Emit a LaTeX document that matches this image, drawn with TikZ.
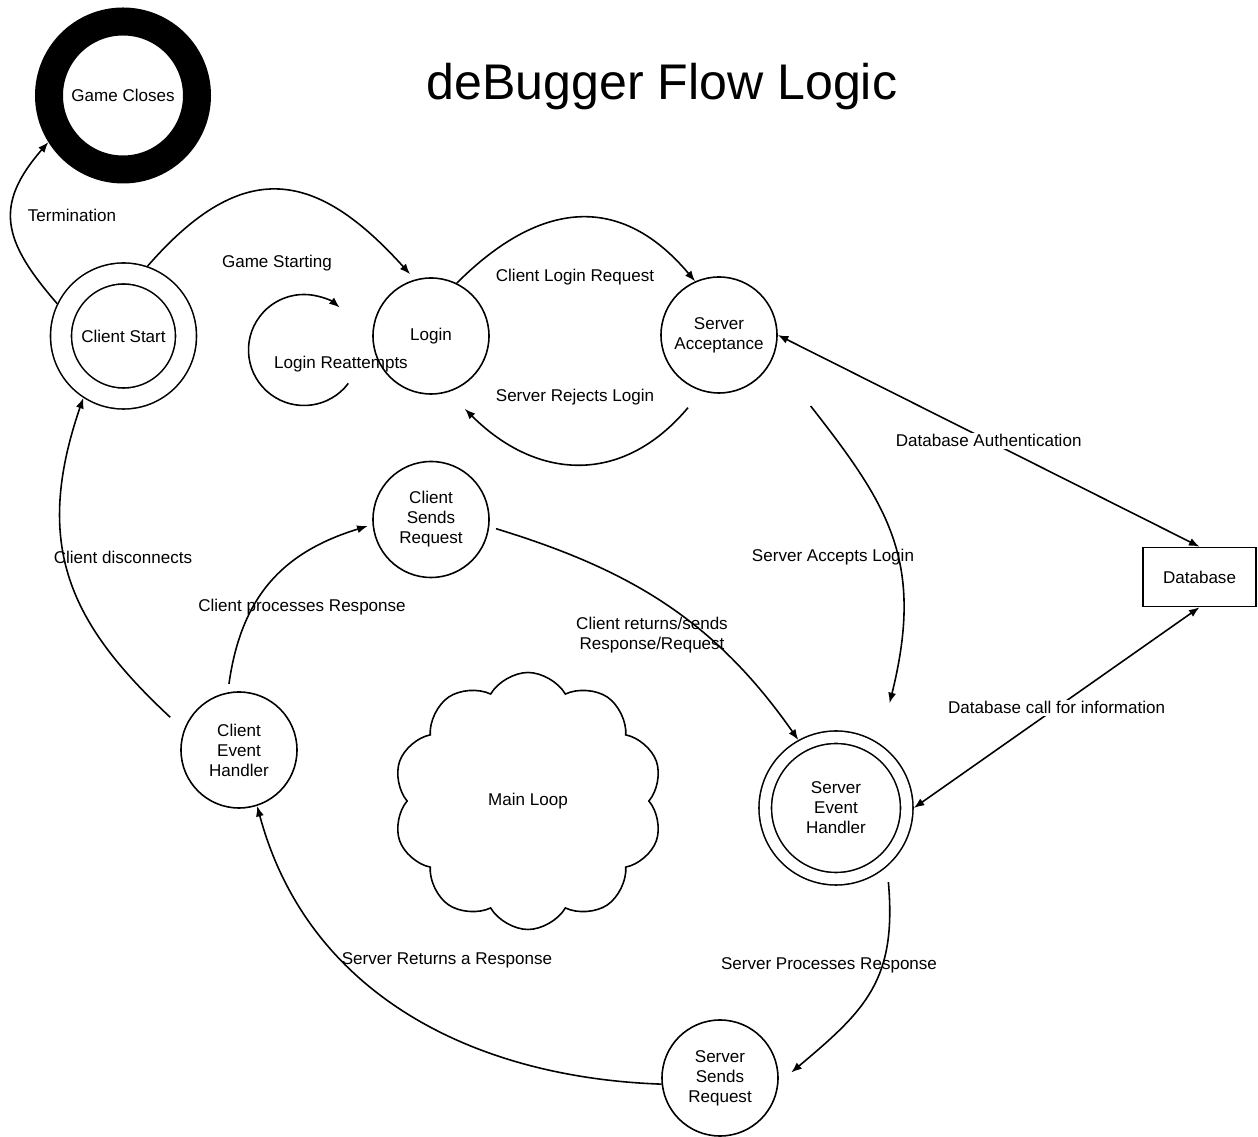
\documentclass[tikz,border=0pt]{standalone}
\usepackage{fontspec}
\setmainfont{Liberation Sans}
\usetikzlibrary{shapes.symbols,arrows.meta}
\tikzset{
    vertex/.style={circle,draw,minimum size=2.32cm,inner sep=0pt,align=center},
    dvertex/.style={vertex,double,double distance=#1},
    flow/.style={-{Latex[length=6pt,width=4.6pt]}},
    dflow/.style={{Latex[length=6pt,width=4.6pt]}-{Latex[length=6pt,width=4.6pt]}},
    lbl/.style={inner sep=1pt}
}

\begin{document}
\begin{tikzpicture}[
    font=\fontsize{9.7}{11.4}\selectfont,
    line width=0.9pt
]
\useasboundingbox (0,0) rectangle (25.16,22.74);

% Tieu de
\node[font=\fontsize{28.5}{34}\selectfont, anchor=base] (title) at (13.24,20.74) {deBugger Flow Logic};

% Cac trang thai
\node[vertex, minimum size=2.96cm, line width=0.56cm] (GC) at (2.46,20.83) {Game Closes};
\node[dvertex=0.388cm, minimum size=2.5cm, outer sep=0.226cm] (CS) at (2.47,16.02) {Client Start};
\node[vertex] (LG) at (8.62,16.02) {Login};
\node[vertex] (SA) at (14.38,16.04) {Server\\Acceptance};
\node[vertex] (CSR) at (8.62,12.35) {Client\\Sends\\Request};
\node[vertex] (CEH) at (4.78,7.74) {Client\\Event\\Handler};
\node[dvertex=0.218cm, minimum size=2.83cm, outer sep=0.141cm] (SEH) at (16.72,6.58) {Server\\Event\\Handler};
\node[vertex] (SSR) at (14.40,1.18) {Server\\Sends\\Request};
\node[draw, minimum width=2.26cm, minimum height=1.18cm] (DB) at (23.99,11.20) {Database};
\node[cloud, draw, cloud puffs=10, cloud puff arc=120, aspect=1.05,
      minimum width=5.4cm, minimum height=5.14cm] (ML) at (10.56,6.72) {Main Loop};

% Vong dang nhap lai
\coordinate (RL) at (6.08,15.74);
\draw[flow] ([shift={(-37:1.11)}]RL) arc[start angle=-37, end angle=-310, radius=1.11cm];

% Cac mui ten phia tren
\draw[flow] (CS.154) to[out=131,in=229,looseness=1.32] (GC.212);
\draw[flow, shorten >=0.14cm] (CS.71) to[out=49,in=132,looseness=1.4] (LG.106);
\draw[flow] (LG.64) to[out=45,in=130,looseness=1.25] (SA.114);
\draw[flow, shorten <=0.43cm, shorten >=0.47cm] (SA.253) to[out=230,in=315,looseness=1.25] (LG.287);

% Mui ten toi co so du lieu
\draw[dflow] (SA.east) -- node[lbl, fill=white] (ldba) {Database Authentication} (DB.north);
\draw[dflow] (DB.south) -- node[lbl, fill=white] (ldbc) {Database call for information} (SEH.east);

% Vong lap chinh
\draw[flow, shorten <=1.22cm, shorten >=0.83cm] (SA.337) to[out=-52,in=76,looseness=1.2] (SEH.56);
\draw[flow, shorten <=0.14cm] (CSR.353) to[out=-17,in=125] (SEH.119);
\draw[flow, shorten <=0.17cm, shorten >=0.1cm] (CEH.101) to[out=82,in=197,looseness=1.1] (CSR.185);
\draw[flow, shorten <=0.37cm] (CEH.160) to[out=137,in=251,looseness=1.15] (CS.237);
\draw[flow] (SSR.186) to[out=178,in=285] (CEH.288);
\draw[flow, shorten <=0.31cm, shorten >=0.33cm] (SEH.311) to[out=-85,in=40,looseness=1.2] (SSR.355);

% Chu thich
\node[lbl] (lterm) at (1.44,18.44) {Termination};
\node[lbl] (lstart) at (5.54,17.48) {Game Starting};
\node[lbl] (lre) at (6.82,15.46) {Login Reattempts};
\node[lbl] (lreq) at (11.50,17.20) {Client Login Request};
\node[lbl] (lrej) at (11.50,14.80) {Server Rejects Login};
\node[lbl] (lacc) at (16.66,11.60) {Server Accepts Login};
\node[lbl] (ldis) at (2.46,11.60) {Client disconnects};
\node[lbl] (lproc) at (6.04,10.60) {Client processes Response};
\node[lbl, align=center] (lret) at (13.04,10.04) {Client returns/sends\\Response/Request};
\node[lbl] (lsret) at (8.94,3.54) {Server Returns a Response};
\node[lbl] (lsproc) at (16.58,3.44) {Server Processes Response};
\end{tikzpicture}
\end{document}
